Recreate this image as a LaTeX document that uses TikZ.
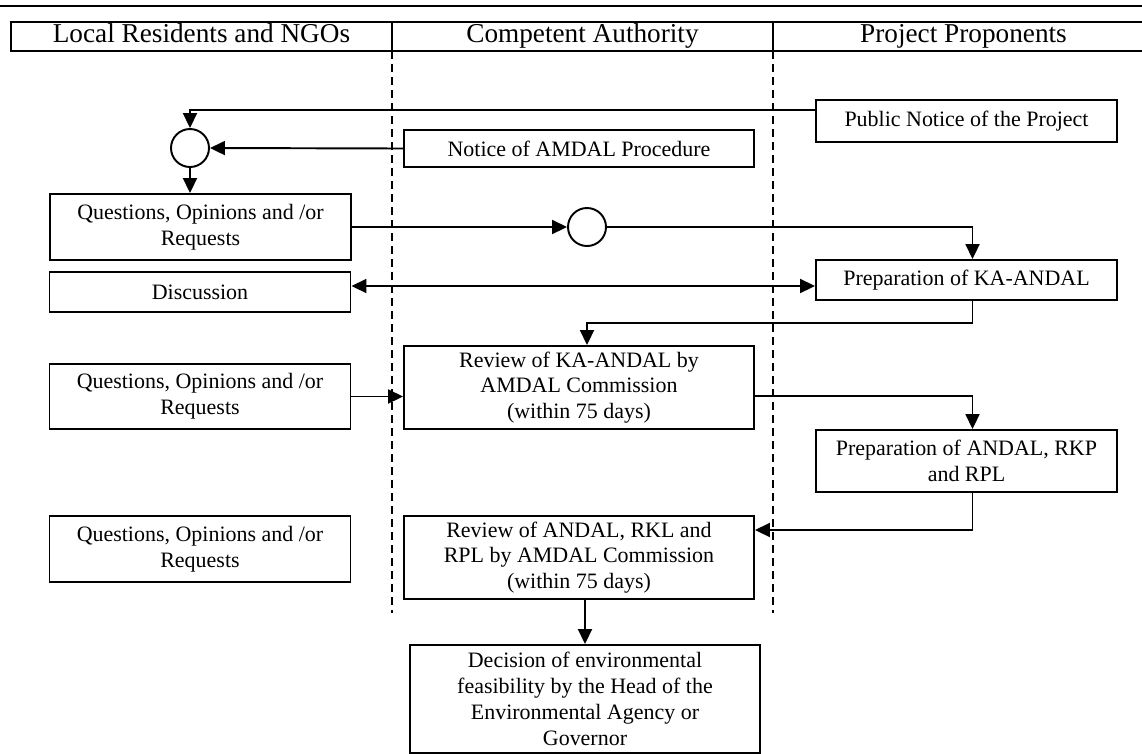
\documentclass[tikz,border=0pt]{standalone}
\usepackage{fontspec}
\setmainfont{Liberation Serif}
\usetikzlibrary{arrows.meta,positioning,calc}
\tikzset{
  lanehead/.style={draw, line width=0.8pt, outer sep=0pt, minimum width=76.2mm, minimum height=5.8mm, text height=2.1ex, text depth=0.6ex, inner sep=0pt, font={\fontsize{15.5pt}{17pt}\selectfont}},
  procbox/.style={draw, line width=1.1pt, align=center, inner sep=2pt, font={\fontsize{12.5pt}{14.7pt}\selectfont}},
  widebox/.style={procbox, minimum width=70mm},
  sidebox/.style={procbox, minimum width=60.2mm},
  joint/.style={draw, circle, line width=1.1pt, minimum size=7.6mm, inner sep=0pt},
  flow/.style={-{Triangle[length=3mm,width=2.8mm]}, line width=1.1pt},
  bothflow/.style={{Triangle[length=3mm,width=2.8mm]}-{Triangle[length=3mm,width=2.8mm]}, line width=1.1pt},
  laneline/.style={dashed, dash pattern=on 1.6mm off 1mm, line width=0.8pt}
}
\begin{document}
\begin{tikzpicture}
\useasboundingbox (0,0) rectangle (22.84,-15.06);
\clip (0,0) rectangle (22.84,-15.06);
\draw[line width=1.5pt] (0,-0.12) -- (22.84,-0.12);
% lanes
\node[lanehead] (resid) at (4.03,-0.73) {Local Residents and NGOs};
\node[lanehead, right=0pt of resid] (auth) {Competent Authority};
\node[lanehead, right=0pt of auth] (prop) {Project Proponents};
\foreach \p in {resid,auth} {
  \draw[laneline] (\p.south east) -- ++(0,-11.24);
}
% boxes
\node[sidebox, minimum height=8.4mm] (pubnotice) at (19.33,-2.42) {Public Notice of the Project};
\node[widebox, minimum height=7.4mm] (notice) at (11.58,-2.97) {Notice of AMDAL Procedure};
\node[joint] (circa) at (3.80,-2.96) {};
\node[sidebox, minimum height=13.2mm] (quesa) at (4.01,-4.54) {Questions, Opinions and /or\\Requests};
\node[joint] (circb) at (11.74,-4.54) {};
\node[sidebox, minimum height=8mm] (prepka) at (19.33,-5.60) {Preparation of KA-ANDAL};
\node[sidebox, minimum height=8mm] (disc) at (4.0,-5.84) {Discussion};
\node[widebox, minimum height=16.6mm] (reva) at (11.58,-7.75) {Review of KA-ANDAL by\\AMDAL Commission\\(within 75 days)};
\node[sidebox, minimum height=13mm] (quesb) at (4.0,-7.93) {Questions, Opinions and /or\\Requests};
\node[sidebox, minimum height=12.4mm] (prepandal) at (19.33,-9.22) {Preparation of ANDAL, RKP\\and RPL};
\node[widebox, minimum height=16.6mm] (revb) at (11.58,-11.15) {Review of ANDAL, RKL and\\RPL by AMDAL Commission\\(within 75 days)};
\node[sidebox, minimum height=13.2mm] (quesc) at (4.0,-10.98) {Questions, Opinions and /or\\Requests};
\node[widebox, minimum height=21.6mm] (decision) at (11.70,-13.98) {Decision of environmental\\feasibility by the Head of the\\Environmental Agency or\\Governor};
% connectors
\draw[flow] ([yshift=0.22cm]pubnotice.west) -| (circa.north);
\draw[flow] (notice.west) -- (circa.east);
\draw[flow] (circa.south) -- (circa.south |- quesa.north);
\draw[flow] (quesa.east) -- (circb.west);
\draw[flow] (circb.east) -| ([xshift=0.12cm]prepka.north);
\draw[bothflow] ([yshift=0.12cm]disc.east) -- ([yshift=0.12cm]disc.east -| prepka.west);
\draw[flow] ([xshift=0.12cm]prepka.south) -- ++(0,-0.44) -| ([xshift=0.16cm]reva.north);
\draw[flow] (quesb.east) -- (quesb.east -| reva.west);
\draw[flow] ([yshift=-0.17cm]reva.east) -| ([xshift=0.12cm]prepandal.north);
\draw[flow] ([xshift=0.12cm]prepandal.south) |- ([yshift=0.55cm]revb.east);
\draw[flow] (revb.south -| decision.north) -- (decision.north);
\end{tikzpicture}
\end{document}
